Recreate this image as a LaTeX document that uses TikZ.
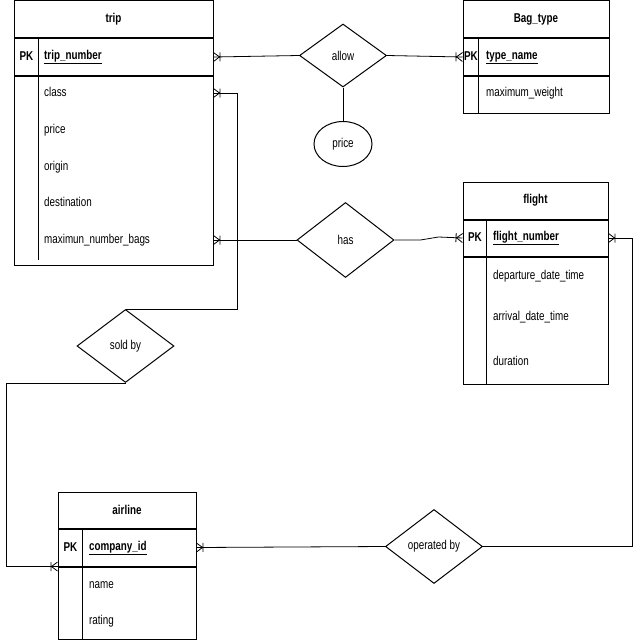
\documentclass[tikz,border=0pt]{standalone}
\usepackage{fontspec}
\setmainfont{Liberation Sans}[FakeStretch=0.77]
\usetikzlibrary{shapes.geometric,arrows.meta,positioning}

\pgfdeclarearrow{
  name=Crow,
  setup code={
    \pgfarrowssettipend{0pt}
    \pgfarrowssetlineend{0pt}
    \pgfarrowssetbackend{-7pt}
    \pgfarrowshullpoint{0pt}{4.5pt}
    \pgfarrowshullpoint{0pt}{-4.5pt}
    \pgfarrowshullpoint{-7pt}{4.5pt}
    \pgfarrowshullpoint{-7pt}{-4.5pt}
  },
  drawing code={
    \pgfpathmoveto{\pgfqpoint{0pt}{4.5pt}}
    \pgfpathlineto{\pgfqpoint{-6pt}{0pt}}
    \pgfpathlineto{\pgfqpoint{0pt}{-4.5pt}}
    \pgfpathmoveto{\pgfqpoint{-6.5pt}{4.5pt}}
    \pgfpathlineto{\pgfqpoint{-6.5pt}{-4.5pt}}
    \pgfusepathqstroke
  }
}

\begin{document}
\fontsize{12.8}{15}\selectfont
\begin{tikzpicture}[x=1pt, y=-1pt,
  tblhead/.style={rectangle, draw=black, line width=1pt, minimum height=37pt,
                  inner sep=0pt, font=\bfseries},
  tblrow/.style={rectangle, draw=black, line width=1pt, minimum height=37pt, inner sep=0pt},
  pk/.style={inner sep=0pt, font=\bfseries},
  attr/.style={anchor=west, inner sep=0pt, text height=9pt, text depth=2.5pt},
  rel/.style={draw=black, line width=0.8pt},
  relship/.style={diamond, draw=black, line width=1pt, inner sep=0pt},
  prop/.style={ellipse, draw=black, line width=1pt, inner sep=0pt}]

\useasboundingbox (0,0) rectangle (640,640);

% trip
\node[tblhead, minimum width=199pt] (trip) at (113.5,19) {trip};
\node[tblrow, minimum width=199pt, below=0pt of trip] (trip_pk) {};
\node[tblrow, minimum width=199pt, minimum height=189pt, below=0pt of trip_pk] (trip_body) {};
\draw[line width=1pt] ([xshift=25pt]trip_pk.north west) -- ([xshift=25pt, yshift=6pt]trip_body.south west);
\node[pk] at (26.5,56) {PK};
\node[attr, font=\bfseries] (trip_no) at (44,56) {\underline{trip\_number}};
\node[attr] (trip_class) at (44,93) {class};
\node[attr] (trip_price) at (44,130) {price};
\node[attr] (trip_origin) at (44,167) {origin};
\node[attr] (trip_dest) at (44,203) {destination};
\node[attr] (trip_bags) at (44,240) {maximun\_number\_bags};

% Bag_type
\node[tblhead, minimum width=146pt] (bag) at (536,19) {Bag\_type};
\node[tblrow, minimum width=146pt, below=0pt of bag] (bag_pk) {};
\node[tblrow, minimum width=146pt, below=0pt of bag_pk] (bag_body) {};
\draw[line width=1pt] ([xshift=16pt]bag_pk.north west) -- ([xshift=16pt]bag_body.south west);
\node[pk] at (471,56) {PK};
\node[attr, font=\bfseries] (bag_name) at (486,56) {\underline{type\_name}};
\node[attr] (bag_weight) at (486,93) {maximum\_weight};

% flight
\node[tblhead, minimum width=145pt] (flight) at (535.5,200.5) {flight};
\node[tblrow, minimum width=145pt, minimum height=36pt, below=0pt of flight] (flight_pk) {};
\node[tblrow, minimum width=145pt, minimum height=127pt, below=0pt of flight_pk] (flight_body) {};
\draw[line width=1pt] ([xshift=24pt]flight_pk.north west) -- ([xshift=24pt]flight_body.south west);
\node[pk] at (475,237) {PK};
\node[attr, font=\bfseries] (flight_no) at (493,237) {\underline{flight\_number}};
\node[attr] (flight_dep) at (493,276) {departure\_date\_time};
\node[attr] (flight_arr) at (493,317) {arrival\_date\_time};
\node[attr] (flight_dur) at (493,362) {duration};

% airline
\node[tblhead, minimum width=138pt, minimum height=36pt] (airline) at (127,510) {airline};
\node[tblrow, minimum width=138pt, below=0pt of airline] (airline_pk) {};
\node[tblrow, minimum width=138pt, minimum height=72pt, below=0pt of airline_pk] (airline_body) {};
\draw[line width=1pt] ([xshift=25pt]airline_pk.north west) -- ([xshift=25pt]airline_body.south west);
\node[pk] at (70.5,547) {PK};
\node[attr, font=\bfseries] (airline_id) at (89,547) {\underline{company\_id}};
\node[attr] (airline_name) at (89,585) {name};
\node[attr] (airline_rating) at (89,621) {rating};

% relationships
\node[relship, minimum width=87pt, minimum height=63pt] (allow) at (343,55.5) {allow};
\node[prop, minimum width=58pt, minimum height=45pt] (price) at (343,144) {price};
\node[relship, minimum width=97pt, minimum height=75pt] (has) at (345.5,240) {has};
\node[relship, minimum width=97pt, minimum height=73pt] (soldby) at (125.5,346) {sold by};
\node[relship, minimum width=97pt, minimum height=74pt] (opby) at (434,546.5) {operated by};

\draw[rel, {Crow}-] (trip_pk.east) -- (allow.west);
\draw[rel, -{Crow}] (allow.east) -- (bag_pk.west);
\draw[rel] (allow.south) -- (price.north);
\draw[rel, {Crow}-] (trip_class -| trip_pk.east) -- ++(24,0) |- (soldby.north);
\draw[rel, {Crow}-] (trip_bags -| trip_pk.east) -- (has.west);
\draw[rel, -{Crow}] (has.east) -- ++(26,0) -- ++(18,-3) -- (flight_pk.west);
\draw[rel, -{Crow}] (soldby.south) -- ++(-119,0) |- (airline_pk.south west);
\draw[rel, {Crow}-] (airline_pk.east) -- (opby.west);
\draw[rel, {Crow}-] (flight_pk.east) -- ++(24,0) |- (opby.east);
\end{tikzpicture}
\end{document}
